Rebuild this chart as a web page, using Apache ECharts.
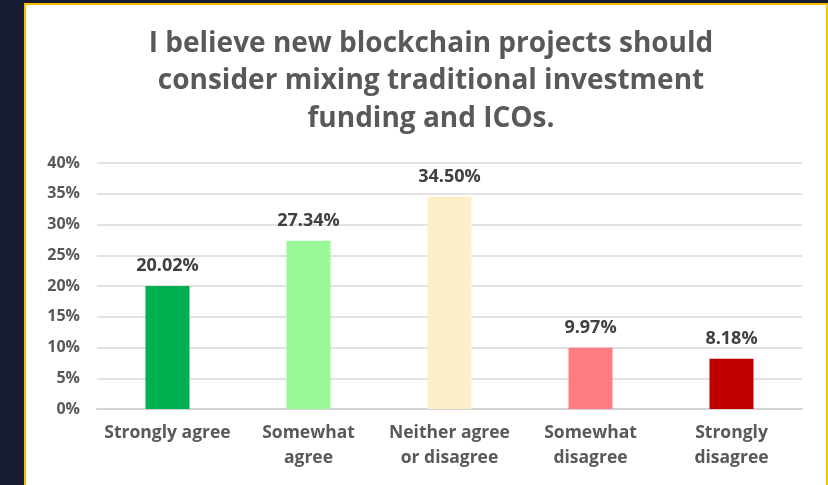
<!DOCTYPE html>
<html>
<head>
<meta charset="utf-8">
<script src="https://cdn.jsdelivr.net/npm/echarts@6/dist/echarts.min.js"></script>
<style>
html,body{margin:0;padding:0;background:#171c30;}
#chart{width:828px;height:485px;}
</style>
</head>
<body>
<div id="chart"></div>
<script>
const titleText = 'I believe new blockchain projects should\nconsider mixing traditional investment\nfunding and ICOs.';
const categories = ['Strongly agree', 'Somewhat\nagree', 'Neither agree\nor disagree', 'Somewhat\ndisagree', 'Strongly\ndisagree'];
const values = [20.02, 27.34, 34.50, 9.97, 8.18];
const barColors = ['#00b050', '#99f998', '#fdefc8', '#ff7c80', '#c00000'];
const yTicks = [0, 5, 10, 15, 20, 25, 30, 35, 40];

const FONT = 'Open Sans';
const chart = echarts.init(document.getElementById('chart'));
chart.setOption({
  backgroundColor: '#171c30',
  graphic: [
    { type: 'rect', z: -10, shape: { x: 25, y: 4, width: 802, height: 490 },
      style: { fill: '#ffffff', stroke: '#f9be00', lineWidth: 2 } }
  ],
  title: {
    text: titleText,
    left: 426, textAlign: 'center', top: 20,
    textStyle: { fontFamily: FONT, fontSize: 28, fontWeight: 'bold', color: '#595959', lineHeight: 37.5 }
  },
  grid: { left: 97, right: 26, top: 163, bottom: 76 },
  xAxis: {
    type: 'category',
    data: categories,
    axisLine: { lineStyle: { color: '#d3d3d3', width: 2 } },
    axisTick: { show: false },
    axisLabel: { interval: 0, hideOverlap: false, fontFamily: FONT, fontSize: 17.5, fontWeight: 'bold', color: '#595959', lineHeight: 25, margin: 12 }
  },
  yAxis: {
    type: 'value',
    min: yTicks[0], max: yTicks[yTicks.length - 1], interval: 5,
    axisLine: { show: false }, axisTick: { show: false },
    splitLine: { lineStyle: { color: '#d9d9d9', width: 1.5 } },
    axisLabel: { fontFamily: FONT, fontSize: 16, fontWeight: 'bold', color: '#595959', margin: 17, formatter: v => v + '%' }
  },
  series: [{
    type: 'bar',
    barWidth: 44,
    data: values.map((v, i) => ({ value: v, itemStyle: { color: barColors[i] } })),
    label: {
      show: true, position: 'top', distance: 11,
      fontFamily: FONT, fontSize: 18, fontWeight: 'bold', color: '#404040',
      formatter: p => p.value.toFixed(2) + '%'
    }
  }],
  animation: false
});
</script>
</body>
</html>
